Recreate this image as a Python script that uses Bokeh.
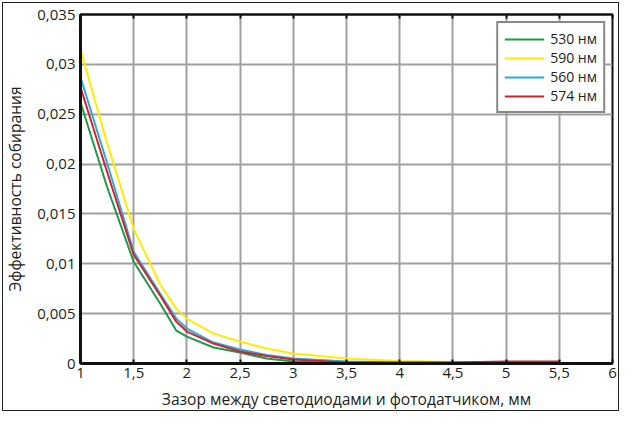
from bokeh.plotting import figure
from bokeh.models import (FixedTicker, CustomJSTickFormatter, LinearAxis, Range1d,
                          InlineStyleSheet)
from bokeh.embed import file_html
from bokeh.resources import INLINE

# ---- data ----
gap_mm = [1, 1.25, 1.5, 1.75, 1.9, 2, 2.25, 2.5, 2.75, 3, 3.5, 4, 4.5, 5, 5.5]
eff_530 = [0.0262, 0.0177, 0.0102, 0.0060, 0.0033, 0.0027, 0.0016, 0.0011, 0.0005, 0.0002, 0.0001, 0.00005, 0.0001, 0.0001, 0.0001]
eff_590 = [0.0315, 0.0221, 0.0135, 0.0079, 0.0055, 0.0045, 0.0030, 0.0022, 0.0015, 0.0010, 0.0005, 0.00025, 0.00015, 0.0001, 0.0001]
eff_560 = [0.0287, 0.0201, 0.0112, 0.0070, 0.0045, 0.0035, 0.0021, 0.0014, 0.00085, 0.0005, 0.0002, 0.0001, 0.0001, 0.0001, 0.0001]
eff_574 = [0.0277, 0.0192, 0.0109, 0.0068, 0.0042, 0.0032, 0.0020, 0.0012, 0.00075, 0.0004, 0.0001, 0.0001, 0.0001, 0.0002, 0.0002]

series_names = ["530 нм", "590 нм", "560 нм", "574 нм"]
series_values = [eff_530, eff_590, eff_560, eff_574]
series_colors = ["#1b9a4b", "#ffec00", "#29a9e1", "#d2232a"]

x_ticks = [1, 1.5, 2, 2.5, 3, 3.5, 4, 4.5, 5, 5.5, 6]
y_ticks = [0, 0.005, 0.01, 0.015, 0.02, 0.025, 0.03, 0.035]
x_label = "Зазор между светодиодами и фотодатчиком, мм"
y_label = "Эффективность собирания"

FONT = "Open Sans"
TXT = "#231f20"
W, H = 620, 412

p = figure(width=W, height=H,
           x_range=Range1d(1, 6), y_range=Range1d(0, 0.035),
           output_backend="svg", toolbar_location=None,
           min_border_left=80, min_border_right=8, min_border_top=14, min_border_bottom=46)
p.stylesheets = [InlineStyleSheet(css=(
    ":host { position: relative; }"
    ":host::after { content: ''; position: absolute; left: 2px; top: 2px; right: 1px; bottom: 1px;"
    " border: 1.5px solid #222; pointer-events: none; z-index: 1000; }"))]

fmt = CustomJSTickFormatter(code="return parseFloat(tick.toFixed(3)).toString().replace('.', ',');")

for ax in (p.xaxis[0], p.yaxis[0]):
    ax.formatter = fmt
    ax.major_label_text_font = FONT
    ax.major_label_text_font_size = "15px"
    ax.major_label_text_color = TXT
    ax.axis_label_text_font = FONT
    ax.axis_label_text_font_size = "15.6px"
    ax.axis_label_text_font_style = "normal"
    ax.axis_label_text_color = TXT
    ax.axis_line_color = "#111"
    ax.axis_line_width = 3
    ax.minor_tick_line_color = None

p.xaxis[0].ticker = FixedTicker(ticks=x_ticks)
p.yaxis[0].ticker = FixedTicker(ticks=y_ticks)
p.xaxis[0].axis_label = x_label
p.yaxis[0].axis_label = y_label
p.xaxis[0].major_tick_in = 4
p.xaxis[0].major_tick_out = 0
p.xaxis[0].major_tick_line_width = 2
p.xaxis[0].major_tick_line_color = "#111"
p.xaxis[0].major_label_standoff = 4
p.xaxis[0].axis_label_standoff = 7
p.yaxis[0].major_tick_in = 0
p.yaxis[0].major_tick_out = 0
p.yaxis[0].major_label_standoff = 5
p.yaxis[0].axis_label_standoff = 8

blank = CustomJSTickFormatter(code="return '';")
top = LinearAxis(ticker=FixedTicker(ticks=x_ticks), formatter=blank,
                 major_label_text_font_size="1px", major_label_standoff=0,
                 major_tick_in=4, major_tick_out=0, major_tick_line_width=2,
                 major_tick_line_color="#111", minor_tick_line_color=None,
                 axis_line_color="#111", axis_line_width=2)
p.add_layout(top, "above")

p.xgrid.grid_line_color = "#a0a0a0"
p.ygrid.grid_line_color = "#a0a0a0"
p.xgrid.grid_line_width = 2
p.ygrid.grid_line_width = 2
p.outline_line_color = "#111"
p.outline_line_width = 2

for name, vals, col in zip(series_names, series_values, series_colors):
    p.line(gap_mm, vals, line_color=col, line_width=2, legend_label=name)

lg = p.legend[0]
lg.location = "top_right"
lg.margin = 7
lg.padding = 6
lg.spacing = 0
lg.label_height = 16
lg.glyph_height = 16
lg.glyph_width = 40
lg.label_standoff = 6
lg.label_text_font = FONT
lg.label_text_font_size = "14px"
lg.label_text_color = TXT
lg.border_line_color = "#111"
lg.border_line_width = 2
lg.background_fill_alpha = 1

open("out.html", "w").write(file_html(p, INLINE))
